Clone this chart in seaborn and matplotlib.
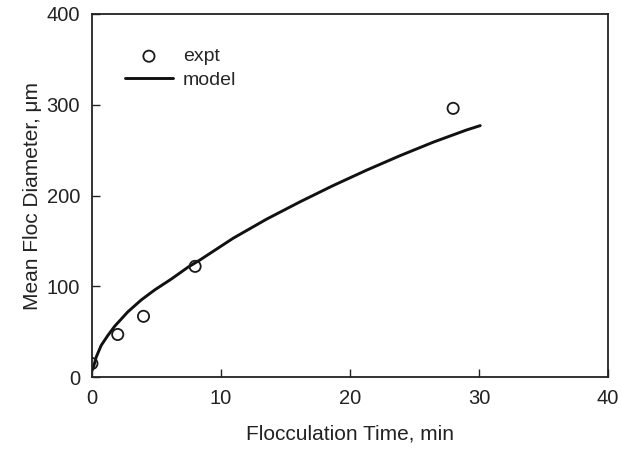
import numpy as np
import pandas as pd
import matplotlib
matplotlib.use("Agg")
import matplotlib.pyplot as plt
import seaborn as sns

# experimental points
expt_time = [0, 2, 4, 8, 28]
expt_diam = [15, 47, 67, 122, 296]

# model curve
model_time = [0, 0.16, 0.33, 0.72, 1.24, 1.76, 2.79, 3.82, 4.86, 6.15, 7.44, 8.37,
              10.95, 13.54, 16.12, 18.7, 21.3, 23.9, 26.5, 29.0, 30.1]
model_diam = [7, 13, 22, 35, 46, 56, 72, 85, 96, 108, 121, 129,
              153, 174, 193, 211, 228, 244, 259, 272, 277]

sns.set_style("ticks")
plt.rcParams['font.family'] = ['Liberation Sans', 'DejaVu Sans']

df_expt = pd.DataFrame({'t': expt_time, 'd': expt_diam})
df_model = pd.DataFrame({'t': model_time, 'd': model_diam})

fig = plt.figure(figsize=(6.21, 4.49), dpi=100)
ax = fig.add_axes([0.148, 0.160, 0.831, 0.809])

sns.scatterplot(data=df_expt, x='t', y='d', ax=ax, marker='o', s=65,
                facecolor='none', edgecolor='#1a1a1a', linewidth=1.3,
                label='expt', zorder=3)
sns.lineplot(data=df_model, x='t', y='d', ax=ax, color='#111111',
             linewidth=2.1, label='model', zorder=2)

ax.set_xlim(0, 40)
ax.set_ylim(0, 400)
ax.set_xticks([0, 10, 20, 30, 40])
ax.set_yticks([0, 100, 200, 300, 400])
ax.tick_params(direction='in', labelsize=14.5, length=5.5, width=1.0, color='#222222',
               labelcolor='#222222', pad=8.5)
for s in ax.spines.values():
    s.set_linewidth(1.3)
    s.set_color('#222222')

ax.set_xlabel('Flocculation Time, min', fontsize=15, color='#222222', labelpad=12)
ax.set_ylabel('Mean Floc Diameter, \u03bcm', fontsize=15, color='#222222', labelpad=3)

ax.legend(loc='upper left', frameon=False, fontsize=14, bbox_to_anchor=(0.064, 0.907),
          borderpad=0, borderaxespad=0, handlelength=2.47, handletextpad=0.5,
          labelspacing=0.29)

fig.savefig('out.png', dpi=100)
